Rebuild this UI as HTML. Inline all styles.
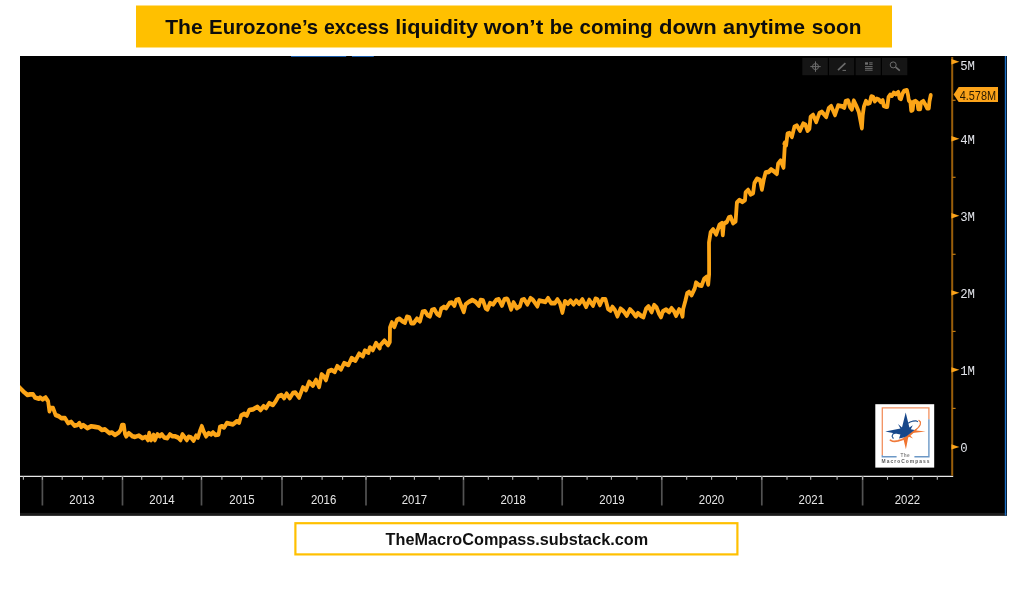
<!DOCTYPE html>
<html lang="en">
<head>
<meta charset="utf-8">
<title>The Eurozone's excess liquidity</title>
<style>
html,body{margin:0;padding:0;background:#fff;}
body{width:1024px;height:589px;overflow:hidden;}
svg{display:block;}
.t{font-family:"Liberation Sans",sans-serif;}
.m{font-family:"Liberation Mono",monospace;}
</style>
</head>
<body>
<svg width="1024" height="589" viewBox="0 0 1024 589">
<rect width="1024" height="589" fill="#ffffff"/>
<!-- title -->
<rect x="136" y="5.5" width="756" height="42" fill="#ffc000"/>
<text class="t" y="34.3" font-size="20.5" font-weight="700" fill="#0d0d0d" xml:space="preserve"><tspan x="165.2" textLength="37.5" lengthAdjust="spacingAndGlyphs">The</tspan> <tspan x="209.1" textLength="109.1" lengthAdjust="spacingAndGlyphs">Eurozone’s</tspan> <tspan x="323.9" textLength="65.1" lengthAdjust="spacingAndGlyphs">excess</tspan> <tspan x="395.2" textLength="82.9" lengthAdjust="spacingAndGlyphs">liquidity</tspan> <tspan x="483.8" textLength="59.5" lengthAdjust="spacingAndGlyphs">won’t</tspan> <tspan x="549.7" textLength="23.6" lengthAdjust="spacingAndGlyphs">be</tspan> <tspan x="579.5" textLength="73.2" lengthAdjust="spacingAndGlyphs">coming</tspan> <tspan x="659.1" textLength="57.5" lengthAdjust="spacingAndGlyphs">down</tspan> <tspan x="723.1" textLength="82.1" lengthAdjust="spacingAndGlyphs">anytime</tspan> <tspan x="811.7" textLength="49.7" lengthAdjust="spacingAndGlyphs">soon</tspan></text>
<!-- chart bg -->
<rect x="20" y="56" width="987" height="459.6" fill="#000"/>
<rect x="20" y="512.9" width="987" height="2.7" fill="#1b1b1b"/>
<rect x="1004.8" y="56" width="1.5" height="459.6" fill="#1b6fc4"/>

<path d="M291 56.5H346.2M351.9 56.5H373.8" stroke="#1a5cab" stroke-width="1" fill="none"/>
<rect x="802.3" y="57.9" width="25.5" height="17.3" fill="#151515"/>
<rect x="829" y="57.9" width="25.2" height="17.3" fill="#151515"/>
<rect x="855.6" y="57.9" width="25.2" height="17.3" fill="#151515"/>
<rect x="882" y="57.9" width="25.3" height="17.3" fill="#151515"/>
<g stroke="#6c6c6c" fill="none" stroke-width="1">
<path d="M810.3 66.6H820.7M815.5 61.4V71.8"/><circle cx="815.5" cy="66.6" r="3"/>
<path d="M838 70.2L845.4 63.1" stroke-width="1.6"/><path d="M842.5 70.4H846"/>
<path d="M865 63.5H868" stroke-width="2.4"/><path d="M869.2 62.8H872.6M869.2 64.3H872.6M865 66.6H872.6M865 68.4H872.6M865 70.2H872.6"/>
<circle cx="893.2" cy="64.9" r="3"/><path d="M895.6 67.2L899.8 70.6" stroke-width="1.7"/>
</g>
<path d="M20 476.3H953.2" stroke="#e8e8e8" stroke-width="1.2" fill="none"/>
<path d="M42.4 476.3V505.6M122.5 476.3V505.6M201.5 476.3V505.6M282 476.3V505.6M366 476.3V505.6M463.5 476.3V505.6M562.2 476.3V505.6M661.8 476.3V505.6M761.8 476.3V505.6M862.6 476.3V505.6" stroke="#525252" stroke-width="1.7" fill="none"/>
<path d="M23.4 476.3V479.8M62.2 476.3V479.8M82.5 476.3V479.8M102.8 476.3V479.8M141.7 476.3V479.8M161.8 476.3V479.8M182.8 476.3V479.8M221.9 476.3V479.8M241.5 476.3V479.8M262 476.3V479.8M301.6 476.3V479.8M322.1 476.3V479.8M342.6 476.3V479.8M390.4 476.3V479.8M414.4 476.3V479.8M439.3 476.3V479.8M488.3 476.3V479.8M512.7 476.3V479.8M538.1 476.3V479.8M587.1 476.3V479.8M611.4 476.3V479.8M636.9 476.3V479.8M686.7 476.3V479.8M711.6 476.3V479.8M736.5 476.3V479.8M787 476.3V479.8M810.7 476.3V479.8M837.1 476.3V479.8M887.5 476.3V479.8M912.7 476.3V479.8M937.3 476.3V479.8M42.4 476.3V479.8M122.5 476.3V479.8M201.5 476.3V479.8M282 476.3V479.8M366 476.3V479.8M463.5 476.3V479.8M562.2 476.3V479.8M661.8 476.3V479.8M761.8 476.3V479.8M862.6 476.3V479.8" stroke="#b4b4b4" stroke-width="1.1" fill="none"/>
<text class="t" x="69.3" y="503.7" font-size="13.1" fill="#e6e6e6" textLength="25.4" lengthAdjust="spacingAndGlyphs">2013</text>
<text class="t" x="149.3" y="503.7" font-size="13.1" fill="#e6e6e6" textLength="25.4" lengthAdjust="spacingAndGlyphs">2014</text>
<text class="t" x="229.3" y="503.7" font-size="13.1" fill="#e6e6e6" textLength="25.4" lengthAdjust="spacingAndGlyphs">2015</text>
<text class="t" x="310.9" y="503.7" font-size="13.1" fill="#e6e6e6" textLength="25.4" lengthAdjust="spacingAndGlyphs">2016</text>
<text class="t" x="401.7" y="503.7" font-size="13.1" fill="#e6e6e6" textLength="25.4" lengthAdjust="spacingAndGlyphs">2017</text>
<text class="t" x="500.5" y="503.7" font-size="13.1" fill="#e6e6e6" textLength="25.4" lengthAdjust="spacingAndGlyphs">2018</text>
<text class="t" x="599.3" y="503.7" font-size="13.1" fill="#e6e6e6" textLength="25.4" lengthAdjust="spacingAndGlyphs">2019</text>
<text class="t" x="698.8" y="503.7" font-size="13.1" fill="#e6e6e6" textLength="25.4" lengthAdjust="spacingAndGlyphs">2020</text>
<text class="t" x="798.6" y="503.7" font-size="13.1" fill="#e6e6e6" textLength="25.4" lengthAdjust="spacingAndGlyphs">2021</text>
<text class="t" x="894.7" y="503.7" font-size="13.1" fill="#e6e6e6" textLength="25.4" lengthAdjust="spacingAndGlyphs">2022</text>
<path d="M952.2 57V475.7" stroke="#995e0a" stroke-width="2" fill="none"/>
<path d="M951.4000000000001 59.05L959.4000000000001 61.75L951.4000000000001 64.45Z" fill="#fba31a"/>
<text class="m" x="960.2" y="69.9" font-size="13.6" fill="#e2e4ea" textLength="14.8" lengthAdjust="spacingAndGlyphs">5M</text>
<path d="M951.4000000000001 136.08L959.4000000000001 138.78L951.4000000000001 141.48Z" fill="#fba31a"/>
<text class="m" x="960.2" y="144.1" font-size="13.6" fill="#e2e4ea" textLength="14.8" lengthAdjust="spacingAndGlyphs">4M</text>
<path d="M951.4000000000001 213.11L959.4000000000001 215.81L951.4000000000001 218.51Z" fill="#fba31a"/>
<text class="m" x="960.2" y="221.1" font-size="13.6" fill="#e2e4ea" textLength="14.8" lengthAdjust="spacingAndGlyphs">3M</text>
<path d="M951.4000000000001 290.14000000000004L959.4000000000001 292.84000000000003L951.4000000000001 295.54Z" fill="#fba31a"/>
<text class="m" x="960.2" y="298.1" font-size="13.6" fill="#e2e4ea" textLength="14.8" lengthAdjust="spacingAndGlyphs">2M</text>
<path d="M951.4000000000001 367.17L959.4000000000001 369.87L951.4000000000001 372.57Z" fill="#fba31a"/>
<text class="m" x="960.2" y="375.2" font-size="13.6" fill="#e2e4ea" textLength="14.8" lengthAdjust="spacingAndGlyphs">1M</text>
<path d="M951.4000000000001 444.2L959.4000000000001 446.9L951.4000000000001 449.59999999999997Z" fill="#fba31a"/>
<text class="m" x="960.2" y="452.2" font-size="13.6" fill="#e2e4ea" textLength="7.4" lengthAdjust="spacingAndGlyphs">0</text>
<path d="M952.2 100.3h3.4" stroke="#c27a10" stroke-width="1.2" fill="none"/>
<path d="M952.2 177.3h3.4" stroke="#c27a10" stroke-width="1.2" fill="none"/>
<path d="M952.2 254.3h3.4" stroke="#c27a10" stroke-width="1.2" fill="none"/>
<path d="M952.2 331.4h3.4" stroke="#c27a10" stroke-width="1.2" fill="none"/>
<path d="M952.2 408.4h3.4" stroke="#c27a10" stroke-width="1.2" fill="none"/>
<path d="M953.6 94.4L958.7 86.9H998V102.1H958.7Z" fill="#fba31a"/>
<text class="t" x="959.7" y="99.6" font-size="12.7" fill="#2a1a00" textLength="36.4" lengthAdjust="spacingAndGlyphs">4.578M</text>
<clipPath id="plot"><rect x="20" y="56" width="931" height="420"/></clipPath>
<g clip-path="url(#plot)"><path d="M17.0 315.67 L20.0 318.13 L23.8 321.21 L27.5 323.77 L30.0 323.26 L33.1 323.26 L35.0 325.82 L38.8 326.84 L40.0 325.82 L42.5 327.36 L45.6 325.82 L48.1 328.89 L49.4 337.09 L50.6 334.52 L53.1 334.52 L55.6 340.16 L58.8 341.19 L61.2 342.72 L65.0 342.72 L68.1 346.82 L71.2 345.80 L74.4 348.87 L77.5 348.36 L79.4 346.82 L81.2 349.90 L83.1 348.36 L87.5 350.92 L91.2 349.39 L95.0 349.90 L98.8 350.41 L101.9 352.46 L105.0 351.95 L109.4 355.02 L111.9 354.51 L115.0 356.56 L118.8 354.51 L120.6 352.46 L121.9 348.36 L123.8 348.36 L125.0 355.53 L126.2 357.58 L128.8 355.02 L132.5 357.58 L135.0 358.10 L138.8 357.07 L142.5 359.11 L145.6 358.10 L147.2 359.63 L148.0 360.66 L149.2 355.02 L151.1 360.66 L153.6 356.56 L154.9 360.66 L157.4 356.05 L159.9 357.58 L161.8 356.05 L164.2 358.61 L167.4 359.11 L169.9 356.05 L172.4 357.58 L174.9 357.58 L178.0 358.61 L180.5 360.66 L182.4 356.05 L184.9 358.61 L186.8 360.66 L188.6 358.10 L191.1 358.61 L193.6 361.16 L196.1 357.07 L198.0 358.61 L199.9 353.48 L201.8 349.39 L203.6 353.48 L206.1 357.58 L208.6 355.02 L211.1 356.05 L213.0 354.51 L215.5 356.56 L218.6 356.05 L219.9 349.90 L221.8 349.39 L224.2 350.41 L226.8 346.82 L229.9 347.34 L233.0 347.85 L236.8 345.29 L239.2 346.31 L241.1 340.67 L244.2 339.14 L246.8 340.67 L249.2 336.07 L253.0 335.56 L257.4 333.51 L260.5 336.07 L263.6 332.99 L266.1 334.52 L269.2 330.43 L273.0 331.97 L275.5 329.10 L276.0 328.38 L278.5 324.80 L281.6 323.77 L284.1 326.33 L286.6 322.75 L289.8 326.33 L292.9 322.23 L295.4 321.72 L299.1 325.82 L302.9 317.62 L306.0 319.67 L309.1 313.02 L312.9 316.08 L316.0 311.48 L319.1 317.11 L321.6 306.87 L324.1 308.92 L326.0 311.48 L328.5 304.30 L331.6 303.28 L334.8 304.82 L337.2 300.20 L341.0 302.77 L344.1 297.64 L348.5 299.18 L351.6 293.54 L355.4 295.59 L359.1 289.96 L362.9 292.01 L364.8 287.39 L368.5 288.93 L369.8 284.84 L372.9 286.89 L376.0 281.25 L379.8 285.34 L380.0 283.30 L384.4 279.20 L388.1 282.79 L389.8 280.23 L390.0 268.44 L391.9 264.34 L394.4 267.93 L396.9 262.30 L399.4 261.27 L402.5 263.32 L405.0 264.34 L406.9 259.74 L409.4 260.25 L411.2 264.85 L413.8 264.85 L416.9 261.27 L420.0 263.32 L422.5 255.64 L425.0 255.12 L427.5 258.20 L430.0 259.22 L431.9 254.10 L434.4 253.59 L436.9 257.17 L439.4 258.70 L441.2 253.07 L443.8 251.54 L446.2 252.56 L449.4 248.46 L451.9 247.95 L454.4 250.51 L456.2 245.90 L458.8 245.39 L461.2 250.51 L463.8 255.64 L465.6 249.49 L468.8 247.44 L472.5 245.90 L475.6 247.44 L478.8 250.51 L480.6 245.90 L483.1 246.41 L485.6 252.56 L487.5 253.59 L490.0 248.46 L493.1 249.49 L496.2 245.90 L498.8 245.39 L501.9 250.51 L504.4 245.39 L506.9 244.88 L508.0 245.90 L511.1 253.59 L513.6 247.95 L516.8 252.56 L519.9 251.02 L521.8 245.90 L524.2 245.39 L527.4 249.49 L530.5 244.36 L533.0 245.90 L537.4 251.02 L539.2 246.41 L542.4 246.93 L545.5 247.44 L548.0 244.36 L551.1 248.46 L554.9 248.46 L557.4 245.39 L559.9 248.46 L562.4 256.15 L564.9 246.93 L568.0 248.98 L570.5 246.41 L573.6 249.49 L576.1 246.41 L579.2 248.98 L582.4 245.39 L586.1 251.54 L589.2 245.90 L593.0 250.51 L595.5 244.88 L597.4 245.39 L599.9 250.00 L602.4 245.39 L605.5 245.39 L608.0 253.07 L610.5 254.61 L612.4 251.54 L614.9 254.10 L617.4 259.22 L620.5 253.07 L623.6 255.12 L626.8 258.70 L629.9 253.59 L633.0 256.15 L635.5 259.02 L636.0 259.33 L637.9 256.76 L641.0 258.81 L643.5 259.84 L646.0 253.18 L648.5 251.13 L651.6 255.74 L654.1 250.10 L656.6 252.15 L659.1 257.28 L661.0 259.84 L662.9 255.23 L666.0 253.69 L669.1 255.74 L671.6 252.66 L674.1 255.23 L676.0 258.81 L679.1 253.69 L681.0 255.23 L682.5 259.33 L683.2 253.18 L685.4 246.52 L687.2 240.37 L689.1 239.34 L691.6 241.90 L694.8 236.27 L696.0 231.66 L699.1 233.70 L701.6 234.22 L704.1 228.59 L706.6 227.05 L708.2 233.20 L709.1 225.00 L709.1 214.75 L709.0 198.77 L710.6 190.57 L713.1 188.02 L716.2 192.11 L719.4 184.43 L721.9 182.89 L722.8 192.62 L723.8 183.40 L726.9 181.87 L728.8 178.28 L730.6 177.77 L733.1 182.89 L735.6 181.35 L736.9 165.98 L739.4 163.93 L742.5 165.48 L745.0 163.93 L745.6 157.79 L748.1 155.74 L750.6 159.33 L753.1 158.30 L754.4 150.10 L756.9 146.52 L760.0 147.54 L761.9 155.23 L763.8 147.03 L765.6 141.39 L768.8 140.89 L771.2 138.84 L773.8 140.37 L776.9 142.42 L778.1 134.22 L780.6 131.66 L783.5 137.30 L785.0 116.80 L784.4 117.83 L786.2 118.85 L787.5 109.63 L789.4 109.11 L791.9 112.20 L794.4 104.00 L796.9 102.97 L800.0 107.07 L803.1 101.43 L805.6 102.46 L807.5 107.07 L809.4 105.53 L810.6 95.80 L813.1 94.26 L816.2 99.90 L819.4 92.72 L821.9 91.70 L826.2 95.80 L828.8 88.62 L831.2 87.09 L835.0 94.26 L838.1 86.57 L841.9 87.09 L844.4 88.11 L845.6 82.99 L848.1 82.48 L850.0 87.61 L851.9 89.66 L853.8 82.48 L856.2 86.57 L858.8 91.70 L861.9 105.02 L862.7 94.47 L863.9 87.43 L865.9 82.94 L867.8 84.86 L869.8 84.22 L871.3 79.10 L873.3 79.74 L874.8 82.94 L876.8 81.02 L878.8 81.66 L880.7 83.58 L882.7 82.30 L883.8 86.79 L885.8 87.43 L887.3 87.43 L888.5 79.74 L890.1 77.82 L892.0 78.46 L893.6 76.21 L895.9 77.18 L898.3 75.57 L899.5 80.38 L901.0 81.02 L902.6 76.54 L904.1 74.61 L906.9 73.98 L908.0 77.82 L908.8 82.30 L910.4 83.58 L911.2 90.62 L912.7 89.98 L913.5 83.58 L915.5 82.94 L917.4 84.22 L918.2 89.34 L920.2 89.34 L920.9 84.22 L923.3 82.94 L925.2 85.50 L927.2 88.70 L928.8 88.70 L929.5 82.94 L930.7 78.14" transform="scale(1 1.22)" fill="none" stroke="#fca517" stroke-width="3.8" stroke-linejoin="round" stroke-linecap="round"/></g>
<g>
<rect x="875.3" y="404.2" width="58.9" height="63.4" fill="#fff"/>
<path d="M882.3 455.4V407.9H928.9V419.2" fill="none" stroke="#f2905f" stroke-width="1.3"/>
<path d="M928.9 419.2V456.7H914.4M896.6 456.7H882.3V455.2" fill="none" stroke="#6c98c6" stroke-width="1.4"/>
<path d="M908.12 423.28 L910.15 421.97 L912.60 421.16 L915.86 420.83 L917.90 421.81M895.89 432.73 L893.04 433.87 L892.06 436.32 L893.45 438.60" fill="none" stroke="#1f4f8e" stroke-width="1.1" stroke-linejoin="round"/>
<path d="M918.96 420.51 L920.42 421.97 L920.26 424.58 L918.47 427.35 L915.86 429.80" fill="none" stroke="#f07a3a" stroke-width="1.2" stroke-linejoin="round" stroke-linecap="round"/>
<path d="M915.86 429.80 L913.41 431.92 L910.15 434.93 L907.30 436.97 L904.45 438.60 L901.19 439.90 L897.93 440.88 L894.67 441.29 L892.22 441.04 L890.43 440.23" fill="none" stroke="#f07a3a" stroke-width="1.7" stroke-linejoin="round" stroke-linecap="round"/>
<path d="M925.6 431.4L914.2 430.2L903.2 438L905.9 449.2L908.4 436.6L913 438.6L909.8 435L912.4 433Z" fill="#f0742f"/>
<path d="M905.7 412.5L909.4 427.6L912.8 425.2L910.8 429.2L914.6 429.9L906.2 436.4L903.6 437.6L899 438.4L900.4 434.6L885.3 431.4L900.4 428.6L898 424L902 427.6Z" fill="#17478a"/>
<text class="t" x="900.5" y="457.4" font-size="4.7" font-weight="700" fill="#858585" textLength="9.2" lengthAdjust="spacing">The</text>
<text class="t" x="881.6" y="463.1" font-size="4.9" font-weight="700" fill="#5c5c5c" textLength="47.8" lengthAdjust="spacing">MacroCompass</text>
</g>
<rect x="295.4" y="523.2" width="442" height="31.2" fill="#fff" stroke="#ffc000" stroke-width="2.2"/>
<text class="t" x="385.6" y="544.6" font-size="15.9" font-weight="700" fill="#111" textLength="262.5" lengthAdjust="spacingAndGlyphs">TheMacroCompass.substack.com</text>
</svg>
</body>
</html>
